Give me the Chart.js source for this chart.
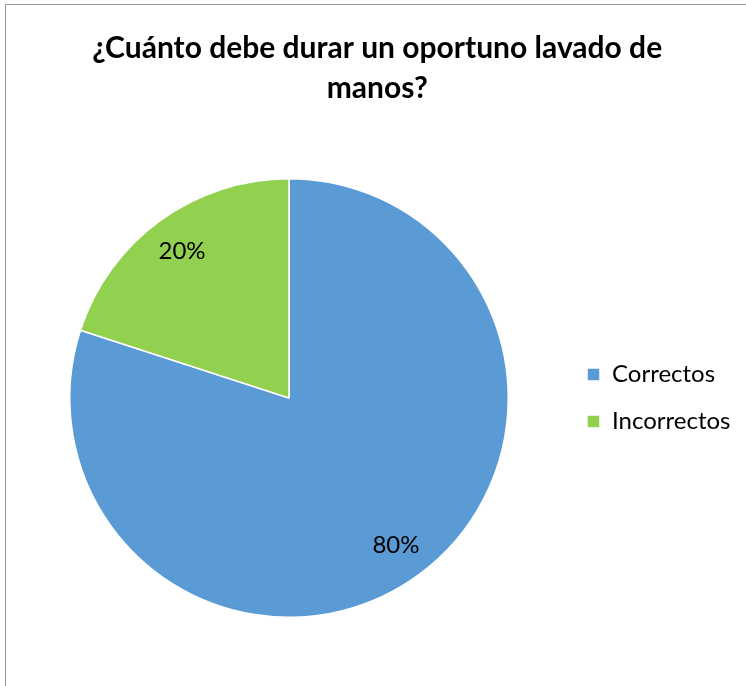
<!DOCTYPE html>
<html>
<head>
<meta charset="utf-8">
<script src="https://cdn.jsdelivr.net/npm/chart.js@4"></script>
<style>
html,body{margin:0;padding:0;background:#fff;}
#wrap{position:relative;width:746px;height:686px;overflow:hidden;}
#frame{position:absolute;left:5px;top:4px;width:760px;height:700px;border-top:1px solid #999;border-left:1px solid #999;box-sizing:border-box;pointer-events:none;}
canvas{position:absolute;left:0;top:0;}
</style>
</head>
<body>
<div id="wrap">
<canvas id="c" width="746" height="686"></canvas>
<div id="frame"></div>
</div>
<script>
const titleLines = ['¿Cuánto debe durar un oportuno lavado de', 'manos?'];
const categories = ['Correctos', 'Incorrectos'];
const values = [80, 20];
const labelsText = ['80%', '20%'];
const colors = ['#5B9BD5', '#92D050'];

const FONT = 'Lato, Carlito, Calibri, "Open Sans", sans-serif';
const legendFontSize = 24;
const legendPad = 23;
const boxW = 13;

// measure legend text to place the legend
const mctx = document.createElement('canvas').getContext('2d');
mctx.font = legendFontSize + 'px ' + FONT;
const tw = Math.max(...categories.map(t => mctx.measureText(t).width));
const legendLeft = 587 - legendPad;
const legendWidth = legendPad + boxW + legendFontSize / 2 + tw + 10;
const padRight = Math.max(0, 746 - (legendLeft + legendWidth));
const padLeft = 289 * 2 - legendLeft;

const labelPlugin = {
  id: 'sliceLabels',
  afterDatasetsDraw(chart) {
    const ctx = chart.ctx;
    const meta = chart.getDatasetMeta(0);
    ctx.save();
    ctx.font = '24px ' + FONT;
    ctx.fillStyle = '#000';
    ctx.textAlign = 'center';
    ctx.textBaseline = 'middle';
    meta.data.forEach((arc, i) => {
      const p = arc.getProps(['x', 'y', 'startAngle', 'endAngle', 'outerRadius']);
      const mid = (p.startAngle + p.endAngle) / 2;
      const r = p.outerRadius * 0.83;
      ctx.fillText(labelsText[i], p.x + Math.cos(mid) * r, p.y + Math.sin(mid) * r);
    });
    ctx.restore();
  }
};

new Chart(document.getElementById('c'), {
  type: 'pie',
  data: {
    labels: categories,
    datasets: [{
      data: values,
      backgroundColor: colors,
      borderColor: '#ffffff',
      borderWidth: 1.5
    }]
  },
  options: {
    responsive: false,
    animation: false,
    events: [],
    layout: { padding: { top: 0, left: padLeft, right: padRight, bottom: 68 } },
    plugins: {
      title: {
        display: true,
        text: titleLines,
        color: '#000',
        font: { family: FONT, size: 30, weight: 'bold', lineHeight: 40 / 30 },
        padding: { top: 28, bottom: 70 }
      },
      legend: {
        position: 'right',
        fullSize: false,
        labels: {
          boxWidth: boxW,
          boxHeight: boxW,
          padding: legendPad,
          color: '#000',
          font: { family: FONT, size: legendFontSize }
        }
      },
      tooltip: { enabled: false }
    }
  },
  plugins: [labelPlugin]
});
</script>
</body>
</html>
